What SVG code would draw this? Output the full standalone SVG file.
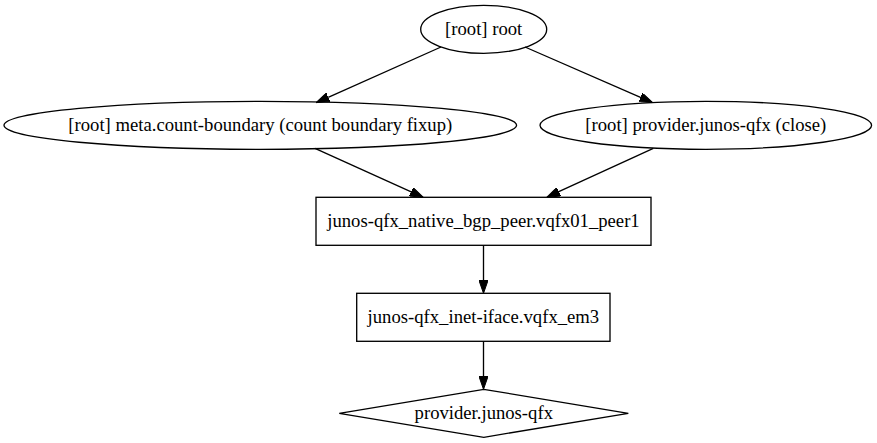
<svg xmlns="http://www.w3.org/2000/svg" width="877" height="443" viewBox="0 0 877 443">
<style>
.shape{fill:none;stroke:#000;stroke-width:1.33}
.edge{fill:none;stroke:#000;stroke-width:1.33}
.lbl{font-family:'Liberation Serif','Times New Roman',Times,serif;font-size:18.67px;text-anchor:middle;fill:#000}
</style>
<defs>
<marker id="arrow" viewBox="0 0 13.33 9.33" refX="0" refY="4.67" markerUnits="userSpaceOnUse" markerWidth="13.33" markerHeight="9.33" orient="auto">
<path d="M0,0 L13.33,4.67 L0,9.33 Z" fill="#000" stroke="#000" stroke-width="1"/>
</marker>
</defs>
<rect width="877" height="443" fill="#fff"/>
<g id="connectors">
<path class="edge" d="M441,47 L328.2,97.3" marker-end="url(#arrow)"/>
<path class="edge" d="M525,47 L640.5,97.3" marker-end="url(#arrow)"/>
<path class="edge" d="M315,148.3 L411.2,191.8" marker-end="url(#arrow)"/>
<path class="edge" d="M653.3,148.3 L558.8,191.7" marker-end="url(#arrow)"/>
<path class="edge" d="M483.5,245.3 L483.5,280" marker-end="url(#arrow)"/>
<path class="edge" d="M483.5,341.3 L483.5,376" marker-end="url(#arrow)"/>
</g>
<g id="root">
<ellipse class="shape" cx="483.7" cy="29.3" rx="63" ry="24"/>
<text class="lbl" font-family="Liberation Serif, serif" x="483.7" y="34.9">[root] root</text>
</g>
<g id="meta-count-boundary">
<ellipse class="shape" cx="260.3" cy="125.3" rx="256.3" ry="24"/>
<text class="lbl" font-family="Liberation Serif, serif" x="260.3" y="130.9">[root] meta.count-boundary (count boundary fixup)</text>
</g>
<g id="provider-close">
<ellipse class="shape" cx="705.8" cy="125.3" rx="165.8" ry="24"/>
<text class="lbl" font-family="Liberation Serif, serif" x="705.8" y="130.9">[root] provider.junos-qfx (close)</text>
</g>
<g id="bgp-peer">
<rect class="shape" x="316" y="197.3" width="335" height="48"/>
<text class="lbl" font-family="Liberation Serif, serif" x="483.5" y="226.9">junos-qfx_native_bgp_peer.vqfx01_peer1</text>
</g>
<g id="inet-iface">
<rect class="shape" x="356.7" y="293.3" width="253.3" height="48"/>
<text class="lbl" font-family="Liberation Serif, serif" x="483.4" y="322.9">junos-qfx_inet-iface.vqfx_em3</text>
</g>
<g id="provider">
<polygon class="shape" points="339.3,413.3 483.8,389.3 628.3,413.3 483.8,437.3"/>
<text class="lbl" font-family="Liberation Serif, serif" x="483.8" y="418.9">provider.junos-qfx</text>
</g>
</svg>
